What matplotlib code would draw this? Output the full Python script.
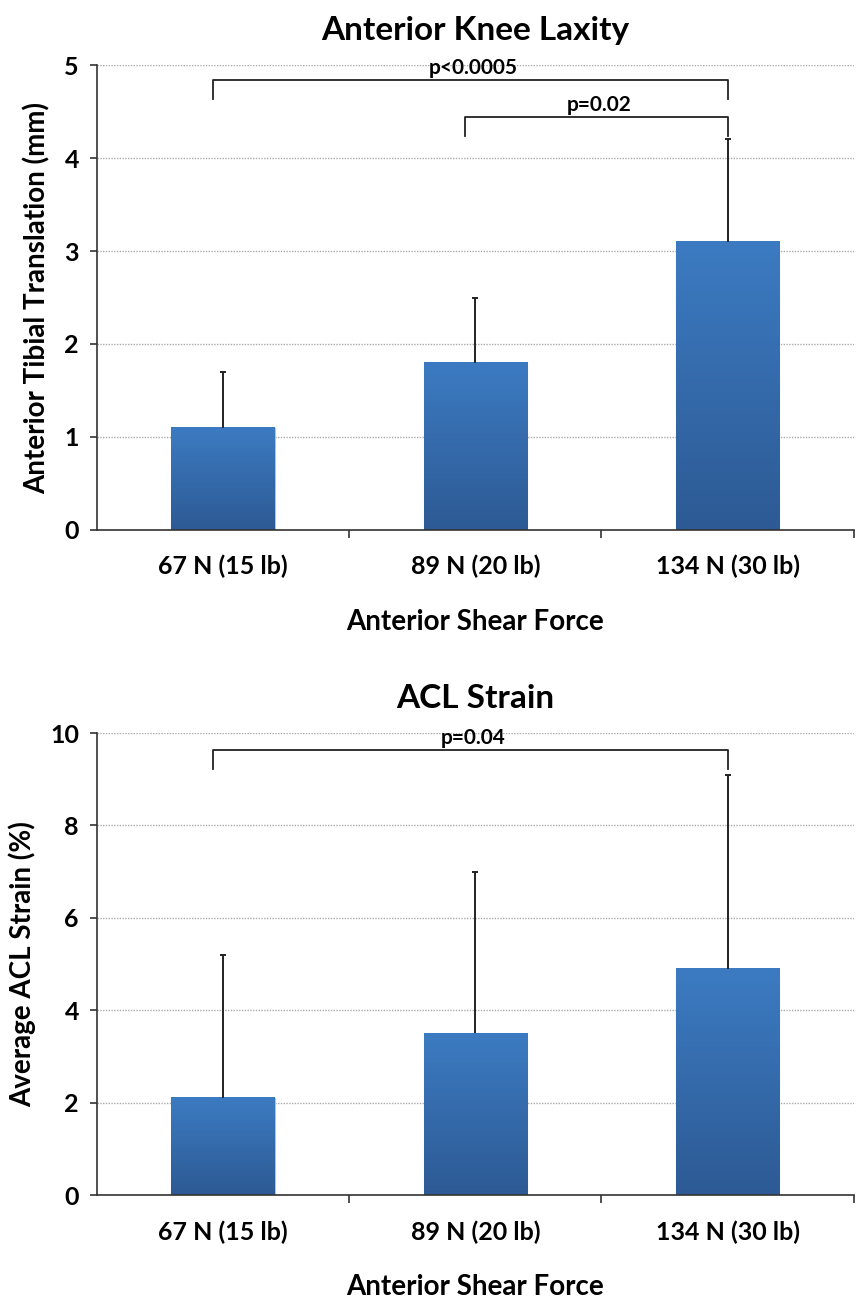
import numpy as np
import matplotlib.pyplot as plt
from matplotlib.colors import LinearSegmentedColormap

categories = ["67 N (15 lb)", "89 N (20 lb)", "134 N (30 lb)"]

laxity_mean = [1.1, 1.8, 3.1]
laxity_sd = [0.6, 0.7, 1.1]

strain_mean = [2.1, 3.5, 4.9]
strain_sd = [3.1, 3.5, 4.2]

# (left category, right category, bracket height, label)
laxity_brackets = [(0, 2, 4.84, "p<0.0005"), (1, 2, 4.44, "p=0.02")]
strain_brackets = [(0, 2, 9.63, "p=0.04")]

plt.rcParams.update({"font.family": ["Lato", "DejaVu Sans"], "font.weight": "bold"})

grad_cmap = LinearSegmentedColormap.from_list("bar", ["#2d5a94", "#3c7bc2"])


def draw_panel(ax, means, sds, ymax, ystep, brackets, title, ylabel):
    x = np.arange(len(categories))
    width = 0.41
    bars = ax.bar(x, means, width, color="#3570b0", edgecolor="#a9c6e8",
                  linewidth=0.8, zorder=2)
    grad = np.linspace(0, 1, 256).reshape(-1, 1)
    for b in bars:
        x0, w, h = b.get_x(), b.get_width(), b.get_height()
        ax.imshow(grad, extent=[x0, x0 + w, 0, h], origin="lower",
                  aspect="auto", cmap=grad_cmap, zorder=2.5)
    tops = np.array(means) + np.array(sds)
    ax.vlines(x, means, tops, color="#222222", linewidth=1.4, zorder=3)
    ax.plot(x, tops, linestyle="none", marker="_", markersize=5,
            markeredgewidth=1.4, color="#222222", zorder=3)

    drop = ymax * 0.04
    for i0, i1, yb, lab in brackets:
        xl, xr = i0 - 0.04, i1
        ax.plot([xl, xl, xr, xr], [yb - drop, yb, yb, yb - drop],
                color="#222222", linewidth=1.3, zorder=3,
                solid_joinstyle="round")
        ax.text((xl + xr) / 2 + 0.01, yb + ymax * 0.004, lab, ha="center",
                va="bottom", fontsize=15, fontweight="bold", zorder=4)

    ax.set_xlim(-0.5, 2.5)
    ax.set_ylim(0, ymax)
    ax.set_yticks(np.arange(0, ymax + 0.01, ystep))
    ax.set_xticks(x)
    ax.set_xticklabels(categories)
    ax.set_xticks([0.5, 1.5, 2.5], minor=True)
    ax.tick_params(axis="x", which="major", length=0, pad=18, labelsize=18)
    ax.tick_params(axis="x", which="minor", length=6, width=1.2, color="#333333")
    ax.tick_params(axis="y", length=5, width=1.2, labelsize=18, pad=8,
                   color="#333333")
    for lbl in ax.get_xticklabels() + ax.get_yticklabels():
        lbl.set_fontweight("bold")
    ax.yaxis.grid(True, linestyle=(0, (1, 1)), color="#aaaaaa", linewidth=1.0,
                  zorder=0)
    ax.set_axisbelow(True)
    for s in ["top", "right"]:
        ax.spines[s].set_visible(False)
    for s in ["left", "bottom"]:
        ax.spines[s].set_linewidth(1.2)
        ax.spines[s].set_color("#333333")
    ax.set_title(title, fontsize=24, fontweight="bold", pad=18)
    ax.set_ylabel(ylabel, fontsize=20, fontweight="bold", labelpad=10)
    ax.set_xlabel("Anterior Shear Force", fontsize=20, fontweight="bold",
                  labelpad=22)


fig = plt.figure(figsize=(8.56, 13.02), dpi=100)
ax1 = fig.add_axes([0.1133, 0.593, 0.884, 0.357])
ax2 = fig.add_axes([0.1133, 0.082, 0.884, 0.355])

draw_panel(ax1, laxity_mean, laxity_sd, 5, 1, laxity_brackets,
           "Anterior Knee Laxity", "Anterior Tibial Translation (mm)")
draw_panel(ax2, strain_mean, strain_sd, 10, 2, strain_brackets,
           "ACL Strain", "Average ACL Strain (%)")

fig.savefig("out.png", dpi=100)
